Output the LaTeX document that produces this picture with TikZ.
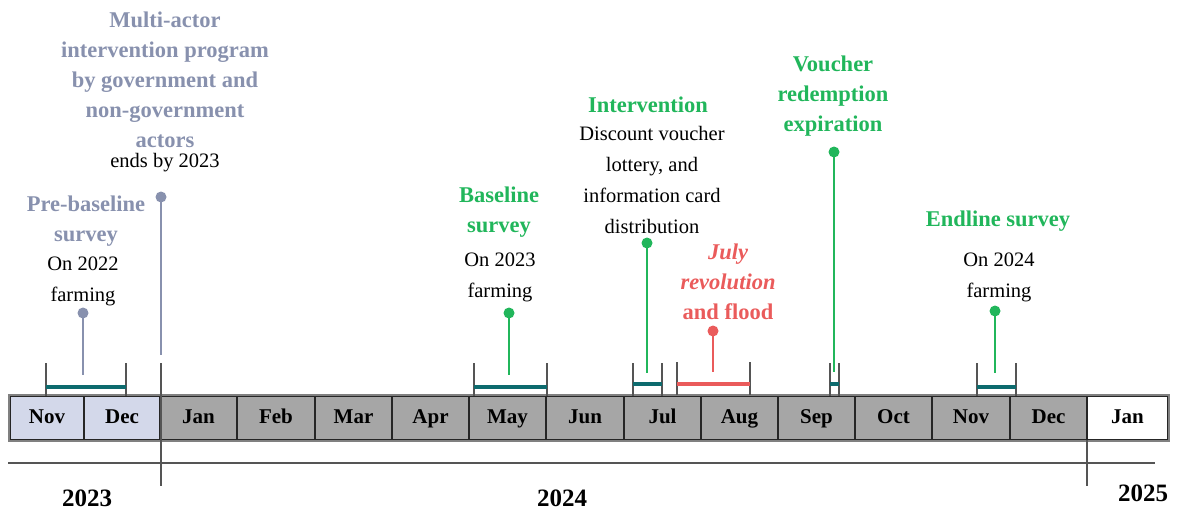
\documentclass[tikz,border=0pt]{standalone}
\usepackage{fontspec}
\setmainfont{Liberation Serif}
\definecolor{slate}{HTML}{8891AE}
\definecolor{grn}{HTML}{21B65B}
\definecolor{rd}{HTML}{EA5B5B}
\definecolor{teal2}{HTML}{0D6B6E}
\definecolor{tickgray}{HTML}{555555}
\definecolor{mgray}{HTML}{A6A6A6}
\definecolor{lblue}{HTML}{D3D8EA}
\tikzset{
  monthbox/.style={draw=black!85, line width=1.8pt, fill=mgray, minimum height=44pt, inner sep=0pt, text height=14pt, text depth=4pt, font=\fontsize{21}{24}\selectfont\bfseries},
  headlbl/.style={align=center, inner sep=0pt, font=\fontsize{22.5}{30}\selectfont\bfseries},
  desclbl/.style={align=center, inner sep=0pt, font=\fontsize{20.5}{31}\selectfont},
  yearlbl/.style={inner sep=0pt, font=\fontsize{25}{28}\selectfont\bfseries},
  pindot/.style={circle, fill, inner sep=0pt, minimum size=11pt},
  pinline/.style={line width=2.5pt},
  tickline/.style={draw=tickgray, line width=1.8pt},
  barline/.style={line width=4pt},
  axisline/.style={draw=tickgray, line width=1.8pt}
}
\begin{document}
\begin{tikzpicture}[x=1pt,y=-1pt]
\useasboundingbox (0,0) rectangle (1181,514);
% months
\foreach \nm/\lab/\xa/\xb/\fc in {m1/Nov/10/84/lblue, m2/Dec/84/160/lblue, m3/Jan/160/237/mgray, m4/Feb/237/315/mgray, m5/Mar/315/392/mgray, m6/Apr/392/469/mgray, m7/May/469/546/mgray, m8/Jun/546/624/mgray, m9/Jul/624/701/mgray, m10/Aug/701/778/mgray, m11/Sep/778/855/mgray, m12/Oct/855/932/mgray, m13/Nov/932/1010/mgray, m14/Dec/1010/1087/mgray, m15/Jan/1087/1168/white}{
  \node[monthbox, fill=\fc, minimum width={(\xb-\xa)*1pt}] (\nm) at ({(\xa+\xb)/2},418) {\lab};
}
\draw[draw=gray, line width=1.5pt] (m1.north west) rectangle (m15.south east);
% axis
\coordinate (axL) at (8,463);
\coordinate (axR) at (1155,463);
\draw[axisline] (axL) -- (axR);
\coordinate (v1t) at (161,363);
\coordinate (v1b) at (161,486);
\draw[axisline] (v1t) -- (v1b);
\coordinate (v2t) at (1087,440);
\coordinate (v2b) at (1087,486);
\draw[axisline] (v2t) -- (v2b);
\node[yearlbl] (y23) at (87,498) {2023};
\node[yearlbl] (y24) at (562,498) {2024};
\node[yearlbl] (y25) at (1143,493) {2025};

% brackets
\foreach \nm/\xa/\xb/\yb/\col in {pb/46/126/387/teal2, bs/474/547/387/teal2, iv/633/662/384/teal2, vr/830/839/384/teal2, el/977/1016/387/teal2}{
  \coordinate (\nm a1) at (\xa,363);
  \coordinate (\nm a2) at (\xa,396);
  \coordinate (\nm b1) at (\xb,363);
  \coordinate (\nm b2) at (\xb,396);
  \draw[tickline] (\nm a1) -- (\nm a2);
  \draw[tickline] (\nm b1) -- (\nm b2);
  \coordinate (\nm l) at (\xa,\yb);
  \coordinate (\nm r) at (\xb,\yb);
  \draw[barline, draw=\col] (\nm l) -- (\nm r);
}
% red bracket
\coordinate (jra1) at (677,362);
\coordinate (jra2) at (677,395);
\coordinate (jrb1) at (750,362);
\coordinate (jrb2) at (750,395);
\draw[tickline] (jra1) -- (jra2);
\draw[tickline] (jrb1) -- (jrb2);
\coordinate (jrl) at (677,384);
\coordinate (jrr) at (750,384);
\draw[barline, draw=rd] (jrl) -- (jrr);

% pins
\node[pindot, fill=slate] (d1) at (83,313) {};
\coordinate (e1) at (83,375);
\draw[pinline, slate] (d1.center) -- (e1);
\node[pindot, fill=slate] (d2) at (161,197) {};
\coordinate (e2) at (161,355);
\draw[pinline, slate] (d2.center) -- (e2);
\node[pindot, fill=grn] (d3) at (509,313) {};
\coordinate (e3) at (509,375);
\draw[pinline, grn] (d3.center) -- (e3);
\node[pindot, fill=grn] (d4) at (647,243) {};
\coordinate (e4) at (647,373);
\draw[pinline, grn] (d4.center) -- (e4);
\node[pindot, fill=rd] (d5) at (713,331) {};
\coordinate (e5) at (713,372);
\draw[pinline, rd] (d5.center) -- (e5);
\node[pindot, fill=grn] (d6) at (834,152) {};
\coordinate (e6) at (834,372);
\draw[pinline, grn] (d6.center) -- (e6);
\node[pindot, fill=grn] (d7) at (995,311) {};
\coordinate (e7) at (995,373);
\draw[pinline, grn] (d7.center) -- (e7);

% labels
\node[headlbl, text=slate] (t1) at (165,80) {Multi-actor\\intervention program\\by government and\\non-government\\actors};
\node[desclbl] (t1b) at (165,163) {ends by 2023};
\node[headlbl, text=slate] (t2) at (86,221) {Pre-baseline\\survey};
\node[desclbl] (t2b) at (83,281.5) {On 2022\\farming};
\node[headlbl, text=grn] (t3) at (499,212) {Baseline\\survey};
\node[desclbl] (t3b) at (500,277.5) {On 2023\\farming};
\node[headlbl, text=grn] (t4) at (648,105) {Intervention};
\node[desclbl] (t4b) at (652,179.5) {Discount voucher\\lottery, and\\information card\\distribution};
\node[headlbl, text=rd] (t5) at (728,282) {\itshape July\\\itshape revolution\\and flood};
\node[headlbl, text=grn] (t6) at (833,96) {Voucher\\redemption\\expiration};
\node[headlbl, text=grn] (t7) at (998,221) {Endline survey};
\node[desclbl] (t7b) at (999,277.5) {On 2024\\farming};
\end{tikzpicture}
\end{document}
